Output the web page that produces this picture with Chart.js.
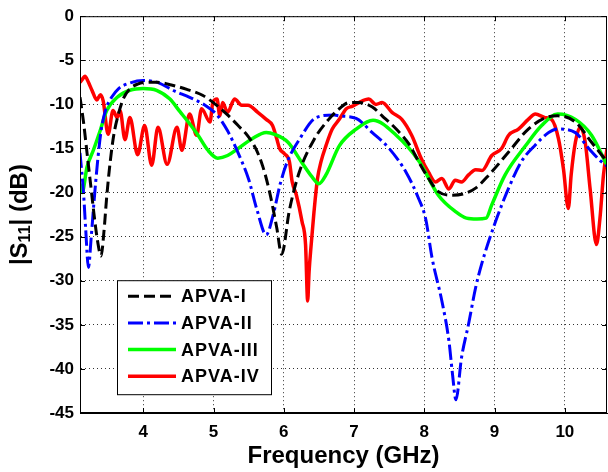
<!DOCTYPE html>
<html>
<head>
<meta charset="utf-8">
<script src="https://cdn.jsdelivr.net/npm/chart.js@4.4.1/dist/chart.umd.min.js"></script>
<style>
  html, body { margin: 0; padding: 0; background: #fff; }
  #wrap { width: 608px; height: 472px; position: relative; }
</style>
</head>
<body>
<div id="wrap"><canvas id="s11Chart"></canvas></div>
<script>
// Series names (legend order)
const seriesNames = ['APVA-I', 'APVA-II', 'APVA-III', 'APVA-IV'];

// APVA-I (black dashed)
const freqI = [3.10,3.15,3.20,3.25,3.30,3.35,3.40,3.44,3.48,3.53,3.58,3.65,3.72,3.80,3.92,4.05,4.20,4.40,4.62,4.85,5.06,5.20,5.35,5.49,5.60,5.70,5.80,5.90,5.97,6.08,6.22,6.43,6.64,6.79,6.93,7.07,7.26,7.40,7.60,7.79,7.92,8.06,8.20,8.39,8.58,8.73,8.92,9.20,9.48,9.73,9.90,10.15,10.38,10.60];
const s11I = [-9.2,-12,-15.5,-19,-22.5,-25.5,-27.2,-24.5,-20.5,-16.5,-13.5,-11,-9.3,-8.3,-7.7,-7.5,-7.5,-7.8,-8.3,-9,-10.2,-11.2,-12.4,-13.6,-15,-17,-20,-24,-27,-22,-17.7,-14,-11.7,-10.5,-9.8,-9.8,-10.3,-11.3,-12.8,-14.6,-16.5,-18.4,-19.9,-20.3,-20.1,-19.5,-18,-15.4,-12.8,-11.5,-11.3,-12,-14.3,-16.5];

// APVA-II (blue dash-dot)
const freqII = [3.10,3.15,3.18,3.22,3.26,3.30,3.35,3.40,3.47,3.55,3.65,3.80,4.00,4.20,4.45,4.66,4.90,5.05,5.20,5.35,5.50,5.62,5.75,5.85,5.95,6.05,6.22,6.46,6.72,6.79,7.03,7.26,7.50,7.74,7.92,8.02,8.11,8.25,8.35,8.40,8.45,8.53,8.63,8.73,8.82,9.00,9.20,9.38,9.58,9.77,9.90,10.15,10.34,10.52,10.60];
const s11II = [-15.5,-20,-24,-28.5,-25,-21,-16.5,-13,-10.5,-9.2,-8.2,-7.6,-7.3,-7.5,-8.5,-9.2,-10.2,-11.2,-13,-15.5,-18.5,-22,-24.8,-22.5,-19,-16.5,-14,-11.5,-11.2,-11.3,-11.6,-13.2,-15,-17.7,-20.7,-23,-27.4,-32.3,-36.8,-40.5,-43.5,-38.7,-34.9,-30.8,-28,-23.6,-19.5,-16.5,-14.6,-13.2,-12.8,-13.2,-15,-16.5,-17];

// APVA-III (green)
const freqIII = [3.10,3.13,3.20,3.29,3.39,3.48,3.63,3.81,4.00,4.19,4.38,4.52,4.66,4.78,4.92,5.06,5.20,5.35,5.55,5.75,5.87,6.06,6.25,6.40,6.50,6.60,6.79,7.03,7.27,7.60,7.93,8.20,8.45,8.60,8.75,8.88,8.96,9.15,9.44,9.67,9.90,10.15,10.38,10.60];
const s11III = [-19,-20,-17.1,-15.2,-12.9,-10.7,-9.2,-8.4,-8.2,-8.4,-9.4,-10.8,-12.2,-13.5,-15.2,-16.1,-15.8,-15,-13.9,-13.2,-13.4,-14.3,-16.5,-18.2,-19,-18,-14.7,-12.8,-11.8,-13.5,-16.5,-20.3,-22.2,-22.9,-23,-22.9,-21.4,-18,-14.7,-12.4,-11.1,-11.7,-13.5,-16.9];

// APVA-IV (red)
const freqIV = [3.10,3.13,3.17,3.22,3.27,3.34,3.39,3.43,3.50,3.57,3.63,3.67,3.74,3.81,3.92,4.02,4.12,4.21,4.34,4.48,4.55,4.66,4.76,4.83,4.95,4.99,5.05,5.09,5.13,5.20,5.30,5.40,5.49,5.63,5.75,5.84,5.90,5.94,6.01,6.08,6.12,6.18,6.26,6.31,6.34,6.36,6.39,6.43,6.48,6.53,6.60,6.69,6.79,6.89,6.98,7.07,7.21,7.31,7.40,7.54,7.68,7.82,7.96,8.06,8.16,8.25,8.35,8.44,8.53,8.63,8.73,8.82,8.96,9.10,9.20,9.34,9.48,9.58,9.72,9.81,9.91,9.98,10.05,10.09,10.15,10.22,10.29,10.36,10.45,10.50,10.55,10.60];
const s11IV = [-7.5,-7.2,-6.8,-7.5,-8.4,-9.5,-8.9,-9.6,-13.4,-10.7,-11.5,-10.7,-14,-11.5,-15.7,-12.4,-16.9,-12.6,-16.8,-12.6,-15.2,-11.1,-13.5,-10.5,-12,-9.8,-9.4,-11.3,-9.8,-10.9,-9.4,-10.1,-10.1,-10.9,-11.7,-12.4,-13.9,-15,-15.6,-16.5,-18.8,-20.3,-23.3,-25.9,-32.3,-29,-25.9,-22.2,-18.4,-16.5,-14.7,-12.8,-11.7,-10.5,-10.2,-9.8,-9.4,-10,-9.8,-10.9,-11.7,-13.5,-16.2,-17.7,-18.8,-18.4,-19.6,-18.6,-18.8,-18,-17.4,-17.5,-15.8,-15,-13.5,-12.8,-11.7,-11.1,-11.5,-11.7,-13.9,-17.3,-21.8,-18,-14.3,-12.6,-14.3,-19.6,-25.9,-22.9,-18,-15];

// Axis ticks
const xTicks = [4, 5, 6, 7, 8, 9, 10];
const yTicks = [0, -5, -10, -15, -20, -25, -30, -35, -40, -45];

const FONT = "'Liberation Sans', Arial, Helvetica, sans-serif";

function toPoints(xs, ys) {
    return xs.map((f, i) => ({ x: f, y: ys[i] }));
}

// Box around the plot with inward tick marks (matlab style)
const framePlugin = {
    id: 'frame',
    afterDatasetsDraw(chart) {
        const { ctx, chartArea: a, scales } = chart;
        ctx.save();
        ctx.strokeStyle = '#000';
        ctx.lineWidth = 1;
        ctx.setLineDash([]);
        ctx.strokeRect(a.left + 0.5, a.top + 0.5, a.width - 1, a.height - 1);
        ctx.beginPath();
        xTicks.forEach(v => {
            const px = Math.round(scales.x.getPixelForValue(v)) + 0.5;
            ctx.moveTo(px, a.bottom); ctx.lineTo(px, a.bottom - 5);
            ctx.moveTo(px, a.top); ctx.lineTo(px, a.top + 5);
        });
        yTicks.forEach(v => {
            const py = Math.round(scales.y.getPixelForValue(v)) + 0.5;
            ctx.moveTo(a.left, py); ctx.lineTo(a.left + 5, py);
            ctx.moveTo(a.right, py); ctx.lineTo(a.right - 5, py);
        });
        ctx.stroke();
        ctx.restore();
    }
};

// Legend box inside the plot, lower left
const legendPlugin = {
    id: 'boxLegend',
    afterDraw(chart) {
        const { ctx, chartArea: a } = chart;
        const x0 = a.left + 37, y0 = a.top + 264, w = 154, h = 114;
        ctx.save();
        ctx.fillStyle = '#fff';
        ctx.fillRect(x0, y0, w, h);
        ctx.strokeStyle = '#000';
        ctx.lineWidth = 1;
        ctx.strokeRect(x0 + 0.5, y0 + 0.5, w, h);
        chart.data.datasets.forEach((ds, i) => {
            const cy = y0 + 16 + i * 26.7;
            ctx.beginPath();
            ctx.setLineDash(ds.borderDash || []);
            ctx.strokeStyle = ds.borderColor;
            ctx.lineWidth = ds.borderWidth;
            ctx.moveTo(x0 + 11, cy);
            ctx.lineTo(x0 + 59, cy);
            ctx.stroke();
            ctx.setLineDash([]);
            ctx.fillStyle = '#000';
            ctx.font = 'bold 18px ' + FONT;
            ctx.letterSpacing = '1px';
            ctx.textBaseline = 'middle';
            ctx.textAlign = 'left';
            ctx.fillText(ds.label, x0 + 64, cy + 1);
        });
        ctx.restore();
    }
};

// Y title |S11| (dB) with a real subscript
const yTitlePlugin = {
    id: 'yTitle',
    afterDraw(chart) {
        const { ctx, chartArea: a } = chart;
        const big = 'bold 24px ' + FONT, small = 'bold 16px ' + FONT;
        const parts = [['|S', big, 0], ['11', small, 6], ['| (dB)', big, 0]];
        ctx.save();
        let total = 0;
        parts.forEach(p => { ctx.font = p[1]; total += ctx.measureText(p[0]).width; });
        ctx.translate(20, (a.top + a.bottom) / 2);
        ctx.rotate(-Math.PI / 2);
        ctx.fillStyle = '#000';
        ctx.textBaseline = 'middle';
        ctx.textAlign = 'left';
        let x = -total / 2;
        parts.forEach(p => {
            ctx.font = p[1];
            ctx.fillText(p[0], x, p[2]);
            x += ctx.measureText(p[0]).width;
        });
        ctx.restore();
    }
};

const ctx = document.getElementById('s11Chart').getContext('2d');

const s11Chart = new Chart(ctx, {
    type: 'line',
    data: {
        datasets: [
            { label: seriesNames[0], data: toPoints(freqI, s11I), borderColor: '#000000', borderWidth: 3, borderDash: [11, 5] },
            { label: seriesNames[1], data: toPoints(freqII, s11II), borderColor: '#0000ff', borderWidth: 3, borderDash: [15, 4, 3, 4] },
            { label: seriesNames[2], data: toPoints(freqIII, s11III), borderColor: '#00ff00', borderWidth: 3.5 },
            { label: seriesNames[3], data: toPoints(freqIV, s11IV), borderColor: '#ff0000', borderWidth: 3.5 }
        ]
    },
    options: {
        responsive: true,
        maintainAspectRatio: false,
        animation: false,
        layout: { padding: { top: 13, right: 1, left: 0, bottom: 0 } },
        elements: {
            point: { radius: 0 },
            line: { cubicInterpolationMode: 'monotone', fill: false }
        },
        plugins: {
            legend: { display: false },
            tooltip: { enabled: false }
        },
        scales: {
            x: {
                type: 'linear',
                min: 3.1,
                max: 10.6,
                afterBuildTicks: scale => { scale.ticks = xTicks.map(v => ({ value: v })); },
                afterFit: scale => { scale.height = 59; },
                grid: { color: '#333', lineWidth: 1, drawTicks: false },
                border: { display: true, color: '#000', dash: [1, 3] },
                ticks: { color: '#000', font: { family: FONT, size: 17, weight: 'bold' }, padding: 9, maxRotation: 0 },
                title: { display: true, text: 'Frequency (GHz)', color: '#000', font: { family: FONT, size: 24, weight: 'bold' }, padding: { top: 0, bottom: 1 } }
            },
            y: {
                type: 'linear',
                min: -45,
                max: 0,
                afterBuildTicks: scale => { scale.ticks = yTicks.map(v => ({ value: v })); },
                afterFit: scale => { scale.width = 80; },
                grid: { color: '#333', lineWidth: 1, drawTicks: false },
                border: { display: true, color: '#000', dash: [1, 3] },
                ticks: { color: '#000', font: { family: FONT, size: 17, weight: 'bold' }, padding: 6 }
            }
        }
    },
    plugins: [framePlugin, legendPlugin, yTitlePlugin]
});
</script>
</body>
</html>
